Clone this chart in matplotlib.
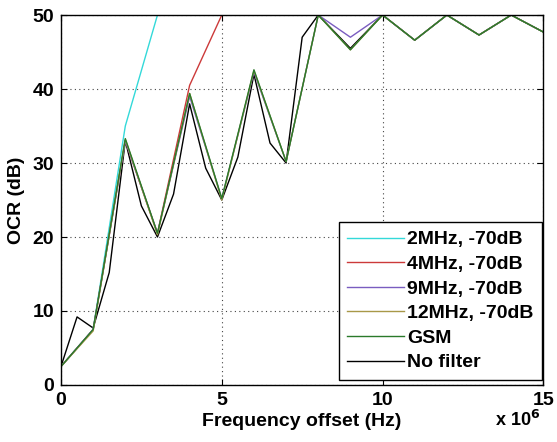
import matplotlib
matplotlib.use("Agg")
import matplotlib.pyplot as plt

plt.rcParams['font.family'] = ['Liberation Sans', 'DejaVu Sans']
plt.rcParams['font.weight'] = 'bold'

# Frequency offset in MHz (axis scaled by 10^6)
x_2mhz = [0, 1, 2, 3, 4]
y_2mhz = [2.5, 7.5, 35.0, 50.0, 50.0]

x_4mhz = [0, 1, 2, 3, 4, 5]
y_4mhz = [2.5, 7.5, 33.0, 20.5, 40.5, 50.0]

x_full = [0, 1, 2, 3, 4, 5, 6, 7, 8, 9, 10, 11, 12, 13, 14, 15]
y_9mhz = [2.5, 7.5, 33.0, 20.5, 39.0, 25.2, 42.3, 30.2, 50.0, 47.0, 50.0, 46.6, 50.0, 47.3, 50.0, 47.7]
y_12mhz = [2.5, 7.3, 33.2, 20.3, 39.4, 25.0, 42.5, 30.2, 50.0, 45.3, 50.0, 46.6, 50.0, 47.3, 50.0, 47.7]
y_gsm = [2.5, 7.5, 33.3, 20.5, 39.4, 25.2, 42.6, 30.2, 50.0, 45.3, 50.0, 46.6, 50.0, 47.3, 50.0, 47.7]

x_nofilt = [0, 0.5, 1, 1.5, 2, 2.5, 3, 3.5, 4, 4.5, 5, 5.5, 6, 6.5, 7, 7.5, 8, 9, 10, 11, 12, 13, 14, 15]
y_nofilt = [2.5, 9.2, 7.7, 15.2, 33.0, 24.2, 20.0, 25.8, 38.0, 29.3, 25.0, 30.8, 42.0, 32.7, 30.0, 47.0,
            50.0, 45.5, 50.0, 46.6, 50.0, 47.3, 50.0, 47.7]

labels = ['2MHz, -70dB', '4MHz, -70dB', '9MHz, -70dB', '12MHz, -70dB', 'GSM', 'No filter']
colors = ['#33d9d9', '#cc3a3a', '#7a5cc0', '#a89848', '#2a7a2a', '#000000']

fig = plt.figure(figsize=(5.57, 4.42), dpi=100)
ax = fig.add_axes([0.1095, 0.129, 0.866, 0.837])

ax.plot(x_2mhz, y_2mhz, color=colors[0], lw=1.0, label=labels[0], zorder=3)
ax.plot(x_4mhz, y_4mhz, color=colors[1], lw=1.0, label=labels[1], zorder=3)
ax.plot(x_full, y_9mhz, color=colors[2], lw=1.0, label=labels[2], zorder=3)
ax.plot(x_full, y_12mhz, color=colors[3], lw=1.0, label=labels[3], zorder=3)
ax.plot(x_full, y_gsm, color=colors[4], lw=1.0, label=labels[4], zorder=4)
ax.plot(x_nofilt, y_nofilt, color=colors[5], lw=1.0, label=labels[5], zorder=2.5)

ax.set_xlim(0, 15)
ax.set_ylim(0, 50)
ax.set_xticks([0, 5, 10, 15])
ax.set_yticks([0, 10, 20, 30, 40, 50])
ax.grid(True, linestyle=(0, (1, 3)), color='#444444', linewidth=0.8)
ax.tick_params(direction='in', top=True, right=True, labelsize=14, length=4, pad=5)
for lab in ax.get_xticklabels() + ax.get_yticklabels():
    lab.set_fontweight('bold')
for s in ax.spines.values():
    s.set_linewidth(1.0)
    s.set_zorder(5)

ax.set_xlabel('Frequency offset (Hz)', fontsize=14, fontweight='bold', labelpad=3)
ax.set_ylabel('OCR (dB)', fontsize=14, fontweight='bold', labelpad=5)
fig.text(0.889, 0.036, r'x 10$^{6}$', fontsize=13, fontweight='bold', va='baseline')

leg = ax.legend(loc='lower right', bbox_to_anchor=(0.997, 0.013), fontsize=14, frameon=True,
                fancybox=False, edgecolor='black', borderaxespad=0.0, handlelength=2.9,
                labelspacing=0.36, handletextpad=0.15, borderpad=0.45, framealpha=1.0)
leg.get_frame().set_linewidth(1.0)
leg.set_zorder(6)
for t in leg.get_texts():
    t.set_fontweight('bold')

fig.savefig('out.png', dpi=100)
